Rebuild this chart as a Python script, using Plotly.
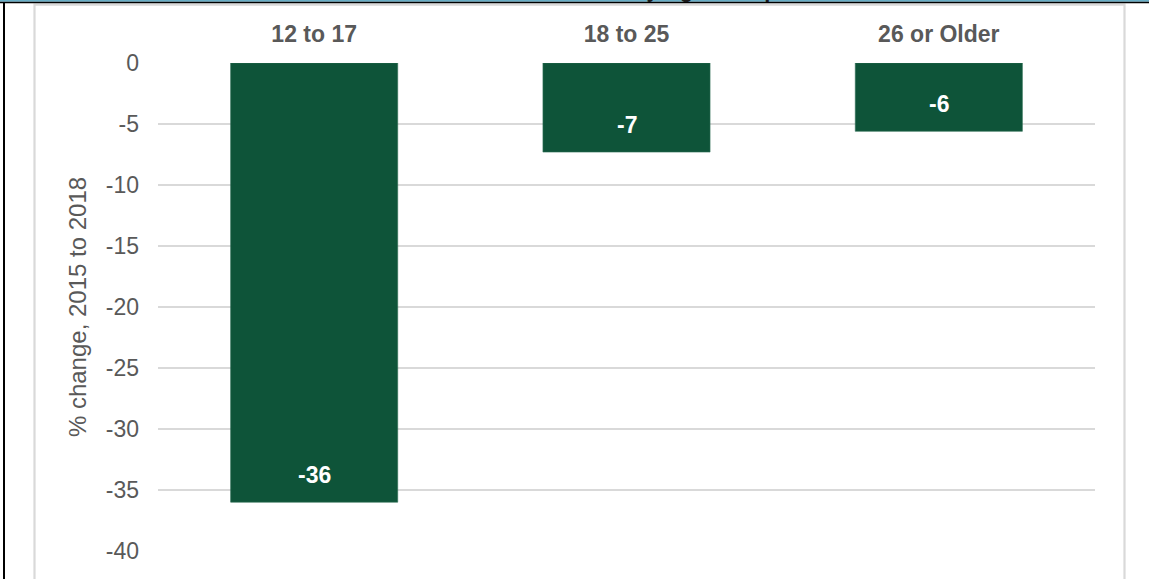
import plotly.graph_objects as go

# Percent change 2015 to 2018, by age group
age_groups = ["12 to 17", "18 to 25", "26 or Older"]
pct_change = [-36.0, -7.3, -5.6]
y_ticks = [0, -5, -10, -15, -20, -25, -30, -35, -40]

W, H = 1149, 579
L, R, T, B = 158, 1095, 63, 551  # plot area in pixels

def px(x):
    return (x - L) / (R - L)

def py(y):
    return (B - y) / (B - T)

GRAY = "#595959"
FONT = "Liberation Sans, Arial, sans-serif"

fig = go.Figure()
fig.add_trace(go.Bar(
    x=age_groups, y=pct_change, width=0.535,
    marker=dict(color="#0e5439", line=dict(color="#2f6f55", width=0.6)),
    hoverinfo="skip",
))

annotations = [
    dict(x=g, y=v, xref="x", yref="y", text=f"{v:.0f}", showarrow=False,
         yanchor="bottom", yshift=12,
         font=dict(family=FONT, size=23, color="white", weight="bold"))
    for g, v in zip(age_groups, pct_change)
]
# title line, mostly above the top edge of the page
annotations.append(dict(
    x=px(780), y=py(3.5), xref="paper", yref="paper", text="by Age Group",
    showarrow=False, xanchor="right", yanchor="bottom",
    font=dict(family=FONT, size=22, color="#1a1a1a", weight="bold")))

shapes = [
    # light frame around the chart
    dict(type="rect", xref="paper", yref="paper",
         x0=px(34.5), x1=px(1124.5), y0=py(640), y1=py(4.7),
         line=dict(color="#d9d9d9", width=2.2), fillcolor="rgba(0,0,0,0)", layer="below"),
    # blue band at the top
    dict(type="rect", xref="paper", yref="paper",
         x0=px(0), x1=px(W), y0=py(1.8), y1=py(-2),
         line=dict(width=0), fillcolor="#68aec6"),
    # black rules
    dict(type="line", xref="paper", yref="paper",
         x0=px(0), x1=px(W), y0=py(2.5), y1=py(2.5),
         line=dict(color="black", width=1.6)),
    dict(type="line", xref="paper", yref="paper",
         x0=px(4), x1=px(4), y0=py(2), y1=py(600),
         line=dict(color="black", width=2)),
]

fig.update_layout(
    width=W, height=H,
    margin=dict(l=L, r=W - R, t=T, b=H - B),
    paper_bgcolor="white", plot_bgcolor="white",
    showlegend=False,
    font=dict(family=FONT, color=GRAY),
    bargap=0.465,
    annotations=annotations,
    shapes=shapes,
    xaxis=dict(
        side="top", showline=False, ticks="", showgrid=False,
        tickfont=dict(family=FONT, size=23, color=GRAY, weight="bold"),
        ticklabelstandoff=15,
    ),
    yaxis=dict(
        range=[-40, 0], tickvals=y_ticks, ticktext=[str(t) for t in y_ticks],
        showgrid=True, gridcolor="#d9d9d9", gridwidth=1.6,
        zeroline=False, showline=False, ticks="",
        tickfont=dict(family=FONT, size=23, color=GRAY),
        ticklabelstandoff=18,
        title=dict(text="% change, 2015 to 2018", standoff=12,
                   font=dict(family=FONT, size=24, color=GRAY)),
    ),
)

fig.write_html("out.html")
